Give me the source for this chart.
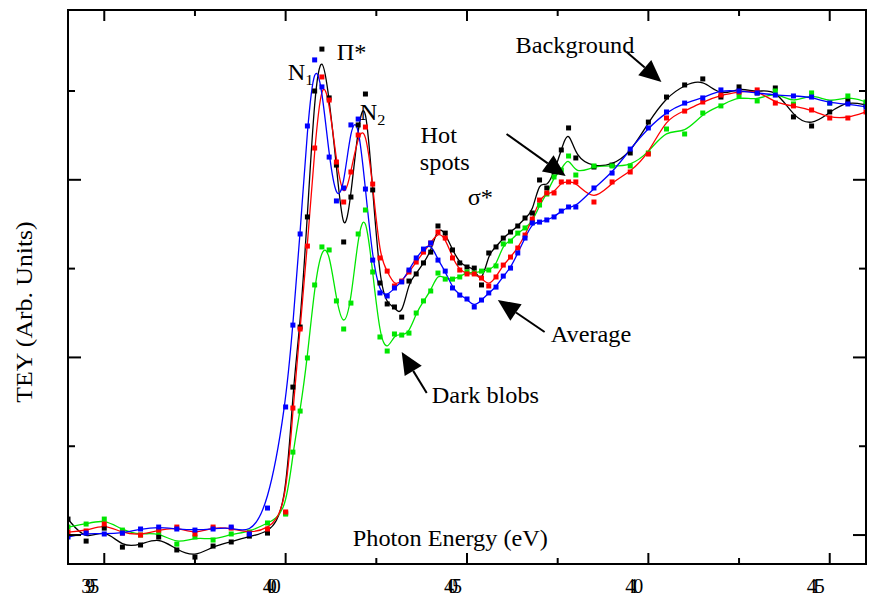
<!DOCTYPE html>
<html>
<head>
<meta charset="utf-8">
<script src="https://cdn.jsdelivr.net/npm/d3@7"></script>
<style>
  body { margin: 0; background: #fff; }
  text { font-family: "Liberation Serif", "Times New Roman", serif; fill: #000; }
</style>
</head>
<body>
<div id="chart"></div>
<script>
const width = 869;
const height = 596;
const margin = { top: 10, right: 3, bottom: 32, left: 68 };

// photon energy (eV) of every sample
const energy = [
  394, 394.5, 395, 395.5, 396, 396.5, 397, 397.5, 398, 398.5, 399, 399.5, 400,
  400.2, 400.4, 400.6, 400.8, 401, 401.2, 401.4, 401.6, 401.8, 402, 402.2, 402.4,
  402.6, 402.8, 403, 403.2, 403.4, 403.6, 403.8, 404, 404.2, 404.4, 404.6, 404.8,
  405, 405.2, 405.4, 405.6, 405.8, 406, 406.2, 406.4, 406.6, 406.8, 407, 407.2,
  407.4, 407.6, 407.8, 408,
  408.5, 409, 409.5, 410, 410.5, 411, 411.5, 412, 412.5, 413, 413.5, 414, 414.5,
  415, 415.5, 416
];

// TEY, arbitrary units
const background = [
  0.090, -0.034, 0.039, -0.068, -0.056, -0.011, -0.084, -0.124, -0.062, -0.039, -0.006, 0.011, 0.124,
  0.833, 1.171, 1.791, 2.500, 2.736, 2.461, 2.083, 1.650, 1.903, 2.309, 2.483, 1.943,
  1.419, 1.301, 1.284, 1.227, 1.430, 1.470, 1.532, 1.593, 1.740, 1.700, 1.605, 1.532,
  1.509, 1.503, 1.408, 1.588, 1.622, 1.672, 1.706, 1.740, 1.785, 1.813, 1.999, 1.954,
  2.044, 2.168, 2.292, 2.123,
  2.072, 2.083, 2.151, 2.325, 2.466, 2.534, 2.568, 2.466, 2.523, 2.489, 2.517, 2.354, 2.303,
  2.382, 2.444, 2.421
];
const hotSpots = [
  0.017, 0.023, 0.062, 0.011, 0.000, 0.028, 0.045, 0.006, 0.045, 0.039, 0.011, 0.034, 0.130,
  0.715, 1.160, 1.627, 2.179, 2.579, 2.449, 2.100, 1.875, 2.044, 2.252, 2.297, 1.976,
  1.560, 1.486, 1.402, 1.430, 1.481, 1.537, 1.593, 1.644, 1.706, 1.672, 1.560, 1.492,
  1.470, 1.470, 1.447, 1.402, 1.453, 1.520, 1.565, 1.616, 1.689, 1.779, 1.886, 1.926,
  1.926, 1.988, 1.988, 1.988,
  1.875, 1.988, 2.044, 2.145, 2.348, 2.387, 2.438, 2.477, 2.494, 2.506, 2.432, 2.416, 2.393,
  2.348, 2.348, 2.382
];
const average = [
  -0.011, 0.011, 0.006, 0.011, 0.034, 0.045, 0.034, 0.028, 0.034, 0.045, 0.006, 0.152, 0.721,
  1.182, 1.695, 2.303, 2.675, 2.523, 2.128, 1.881, 1.954, 2.309, 2.342, 1.948, 1.548,
  1.363, 1.346, 1.391, 1.425, 1.492, 1.560, 1.610, 1.644, 1.548, 1.486, 1.391, 1.351,
  1.329, 1.284, 1.323, 1.363, 1.396, 1.458, 1.503, 1.588, 1.672, 1.757, 1.762, 1.774,
  1.791, 1.824, 1.847, 1.847,
  1.954, 2.038, 2.173, 2.292, 2.382, 2.432, 2.461, 2.506, 2.500, 2.489, 2.477, 2.472, 2.466,
  2.432, 2.427, 2.410
];
const darkBlobs = [
  0.045, 0.062, 0.090, 0.028, 0.000, 0.017, -0.051, -0.011, -0.028, 0.006, 0.017, 0.068, 0.118,
  0.467, 0.698, 0.997, 1.408, 1.622, 1.605, 1.318, 1.160, 1.306, 1.695, 1.830, 1.481,
  1.115, 1.036, 1.132, 1.126, 1.137, 1.250, 1.318, 1.374, 1.475, 1.441, 1.441, 1.453,
  1.481, 1.475, 1.486, 1.492, 1.515, 1.639, 1.655, 1.700, 1.729, 1.762, 1.858, 1.920,
  2.016, 2.055, 2.134, 2.027,
  2.078, 2.078, 2.078, 2.151, 2.286, 2.258, 2.376, 2.416, 2.472, 2.444, 2.500, 2.427, 2.489,
  2.432, 2.472, 2.438
];

const xMajor = [395, 400, 405, 410, 415];
const xMinor = [397.5, 402.5, 407.5, 412.5];
const xTickLabels = ["395", "400", "405", "410", "415"];
const yMajor = [0, 1, 2];
const yMinor = [0.5, 1.5, 2.5];

const series = [
  { name: "Background", values: background, color: "#000000" },
  { name: "Dark blobs", values: darkBlobs, color: "#00e600" },
  { name: "Hot spots", values: hotSpots, color: "#ff0000" },
  { name: "Average", values: average, color: "#0000ff" }
];

// text labels and arrows, in data coordinates
const labels = [
  { text: "Π*", e: 401.41, v: 2.675 },
  { text: "Hot", e: 403.72, v: 2.207 },
  { text: "spots", e: 403.70, v: 2.055 },
  { text: "σ*", e: 405.02, v: 1.858 },
  { text: "Background", e: 406.34, v: 2.714 },
  { text: "Average", e: 407.31, v: 1.087 },
  { text: "Dark blobs", e: 404.03, v: 0.743 },
  { text: "Photon Energy (eV)", e: 401.85, v: -0.062 }
];
const subLabels = [
  { text: "N", sub: "1", e: 400.06, v: 2.562 },
  { text: "N", sub: "2", e: 402.04, v: 2.337 }
];
const arrows = [
  { e1: 409.40, v1: 2.720, e2: 410.36, v2: 2.551 },
  { e1: 406.09, v1: 2.258, e2: 407.72, v2: 2.021 },
  { e1: 407.14, v1: 1.143, e2: 405.85, v2: 1.323 },
  { e1: 403.89, v1: 0.800, e2: 403.20, v2: 1.030 }
];

const svg = d3
  .select("#chart")
  .append("svg")
  .attr("width", width)
  .attr("height", height);

const x = d3
  .scaleLinear()
  .domain([394, 416])
  .range([margin.left, width - margin.right]);
const y = d3
  .scaleLinear()
  .domain([-0.163, 2.956])
  .range([height - margin.bottom, margin.top]);

const plotLeft = margin.left;
const plotRight = width - margin.right;
const plotTop = margin.top;
const plotBottom = height - margin.bottom;

svg
  .append("clipPath")
  .attr("id", "plot-clip")
  .append("rect")
  .attr("x", plotLeft)
  .attr("y", plotTop)
  .attr("width", plotRight - plotLeft)
  .attr("height", plotBottom - plotTop);

// Draw smoothed curves and the raw markers
const line = d3
  .line()
  .x((d) => x(d[0]))
  .y((d) => y(d[1]))
  .curve(d3.curveBasis);

const plot = svg.append("g").attr("clip-path", "url(#plot-clip)");
series.forEach((s) => {
  const pts = energy.map((e, i) => [e, s.values[i]]);
  plot
    .append("path")
    .datum(pts)
    .attr("d", line)
    .attr("fill", "none")
    .attr("stroke", s.color)
    .attr("stroke-width", 1.3);
});
series.forEach((s) => {
  const pts = energy.map((e, i) => [e, s.values[i]]);
  plot
    .append("g")
    .selectAll("rect")
    .data(pts)
    .join("rect")
    .attr("x", (d) => x(d[0]) - 2.5)
    .attr("y", (d) => y(d[1]) - 2.5)
    .attr("width", 5)
    .attr("height", 5)
    .attr("fill", s.color);
});

// Frame and ticks
const axes = svg.append("g").attr("stroke", "#000").attr("stroke-width", 2);
axes
  .append("rect")
  .attr("x", plotLeft)
  .attr("y", plotTop)
  .attr("width", plotRight - plotLeft)
  .attr("height", plotBottom - plotTop)
  .attr("fill", "none");

const xTicks = xMajor.map((v) => ({ v, len: 11 })).concat(xMinor.map((v) => ({ v, len: 6 })));
axes
  .selectAll(".xb")
  .data(xTicks)
  .join("line")
  .attr("class", "xb")
  .attr("x1", (d) => x(d.v))
  .attr("x2", (d) => x(d.v))
  .attr("y1", plotBottom)
  .attr("y2", (d) => plotBottom - d.len);
axes
  .selectAll(".xt")
  .data(xTicks)
  .join("line")
  .attr("class", "xt")
  .attr("x1", (d) => x(d.v))
  .attr("x2", (d) => x(d.v))
  .attr("y1", plotTop)
  .attr("y2", (d) => plotTop + d.len);

const yTicks = yMajor.map((v) => ({ v, len: 13 })).concat(yMinor.map((v) => ({ v, len: 7 })));
axes
  .selectAll(".yl")
  .data(yTicks)
  .join("line")
  .attr("class", "yl")
  .attr("x1", plotLeft)
  .attr("x2", (d) => plotLeft + d.len)
  .attr("y1", (d) => y(d.v))
  .attr("y2", (d) => y(d.v));
axes
  .selectAll(".yr")
  .data(yTicks)
  .join("line")
  .attr("class", "yr")
  .attr("x1", plotRight)
  .attr("x2", (d) => plotRight - d.len)
  .attr("y1", (d) => y(d.v))
  .attr("y2", (d) => y(d.v));

// Squeezed tick labels as in the original
svg
  .append("g")
  .selectAll("text")
  .data(xMajor)
  .join("text")
  .attr("x", (d) => x(d) - 23)
  .attr("y", 593)
  .attr("font-size", 20)
  .attr("textLength", 18)
  .attr("lengthAdjust", "spacing")
  .text((d, i) => xTickLabels[i]);

// Y axis title
svg
  .append("text")
  .attr("transform", `translate(32, ${(plotTop + plotBottom) / 2 + 25}) rotate(-90) scale(1.12, 1)`)
  .attr("text-anchor", "middle")
  .attr("font-size", 23)
  .text("TEY (Arb. Units)");

// Annotations (the original type is slightly stretched horizontally)
svg
  .append("g")
  .selectAll("text")
  .data(labels)
  .join("text")
  .attr("transform", (d) => `translate(${x(d.e)}, ${y(d.v)}) scale(1.08, 1)`)
  .attr("font-size", 22.5)
  .text((d) => d.text);

const subs = svg
  .append("g")
  .selectAll("text")
  .data(subLabels)
  .join("text")
  .attr("transform", (d) => `translate(${x(d.e)}, ${y(d.v)}) scale(1.08, 1)`)
  .attr("font-size", 22.5);
subs.append("tspan").text((d) => d.text);
subs
  .append("tspan")
  .attr("dy", 5)
  .attr("font-size", 15)
  .text((d) => d.sub);

const arrowG = svg.append("g");
arrows.forEach((a) => {
  const x1 = x(a.e1), y1 = y(a.v1), x2 = x(a.e2), y2 = y(a.v2);
  const ang = Math.atan2(y2 - y1, x2 - x1);
  const headLen = 22, headW = 10;
  const bx = x2 - headLen * Math.cos(ang);
  const by = y2 - headLen * Math.sin(ang);
  arrowG
    .append("line")
    .attr("x1", x1)
    .attr("y1", y1)
    .attr("x2", bx)
    .attr("y2", by)
    .attr("stroke", "#000")
    .attr("stroke-width", 2);
  const px = -Math.sin(ang) * headW, py = Math.cos(ang) * headW;
  arrowG
    .append("path")
    .attr("d", `M${x2},${y2}L${bx + px},${by + py}L${bx - px},${by - py}Z`)
    .attr("fill", "#000");
});
</script>
</body>
</html>
